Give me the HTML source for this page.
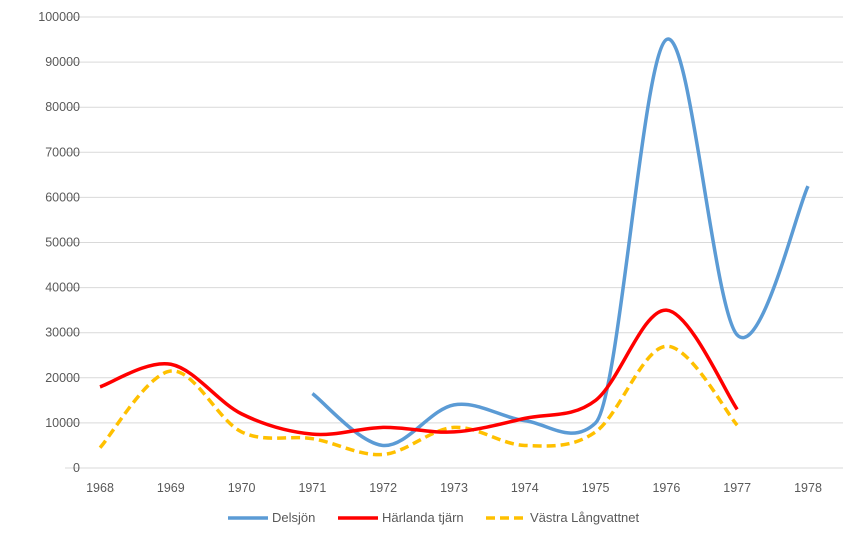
<!DOCTYPE html><html><head><meta charset="utf-8"><style>body{margin:0;background:#fff}svg{display:block;font-family:"Liberation Sans",sans-serif}</style></head><body>
<svg id="s" width="860" height="540" xmlns="http://www.w3.org/2000/svg">
<g id="grid" stroke="#d9d9d9" stroke-width="1"></g>
<g id="lab" fill="#595959" font-size="12.5"></g>
<g id="ser" fill="none" stroke-width="3.5"></g>
<g font-size="13" fill="#595959">
<line x1="228" y1="518" x2="268" y2="518" stroke="#5b9bd5" stroke-width="3.5"/><text x="272" y="522">Delsjön</text>
<line x1="338" y1="518" x2="378" y2="518" stroke="#ff0000" stroke-width="3.5"/><text x="382" y="522">Härlanda tjärn</text>
<line x1="486" y1="518" x2="526" y2="518" stroke="#ffc000" stroke-width="3.5" stroke-dasharray="9,5"/><text x="530" y="522">Västra Långvattnet</text>
</g>
</svg>
<script>
const X=y=>100+70.8*(y-1968),Y=v=>468-v*0.00451;
const g=document.getElementById('grid'),l=document.getElementById('lab'),s=document.getElementById('ser');
let h='',t='';
for(let i=0;i<=10;i++){const y=Y(i*10000).toFixed(1);h+=`<line x1="65" x2="843" y1="${y}" y2="${y}"/>`;t+=`<text x="80" y="${(+y+4)}" text-anchor="end">${i*10000}</text>`;}
for(let yr=1968;yr<=1978;yr++)t+=`<text x="${X(yr)}" y="492" text-anchor="middle">${yr}</text>`;
g.innerHTML=h;l.innerHTML=t;
function path(pts,kk){const K=i=>kk&&kk[i]!=null?kk[i]:1/6;let d=`M${pts[0][0]},${pts[0][1]}`;for(let i=0;i<pts.length-1;i++){const p0=pts[i-1]||pts[i],p1=pts[i],p2=pts[i+1],p3=pts[i+2]||p2;const a=K(i),b=K(i+1);d+=` C${p1[0]+(p2[0]-p0[0])/6},${p1[1]+(p2[1]-p0[1])*a} ${p2[0]-(p3[0]-p1[0])/6},${p2[1]-(p3[1]-p1[1])*b} ${p2[0]},${p2[1]}`;}return d;}
function ser(start,vals,col,dash,kk){const pts=vals.map((v,i)=>[X(start+i),Y(v)]);s.innerHTML+=`<path d="${path(pts,kk)}" stroke="${col}" ${dash?'stroke-dasharray="9,5"':''}/>`;}
ser(1968,[4500,21500,8000,6500,3000,9000,5000,8000,27000,9500],'#ffc000',1);
ser(1971,[16500,5000,14000,10500,10000,95000,29500,62500],'#5b9bd5',0,[null,null,null,null,0.06]);
ser(1968,[18000,23000,12000,7500,9000,8000,11000,15000,35000,13000],'#ff0000');
</script>
</body></html>
